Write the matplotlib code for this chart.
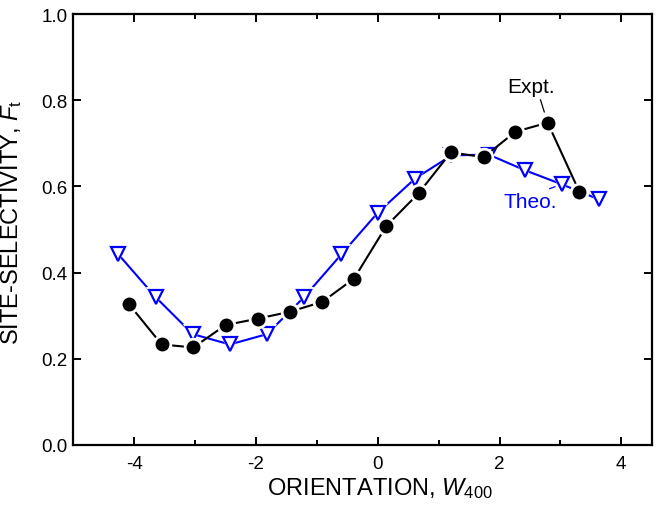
import matplotlib
matplotlib.use("Agg")
import matplotlib.pyplot as plt
from matplotlib.ticker import MultipleLocator

# ---- data ----
expt_x = [-4.09, -3.55, -3.03, -2.50, -1.97, -1.44, -0.91, -0.39,
          0.14, 0.67, 1.20, 1.74, 2.26, 2.79, 3.31]
expt_y = [0.327, 0.233, 0.226, 0.278, 0.293, 0.309, 0.332, 0.386,
          0.508, 0.584, 0.679, 0.668, 0.727, 0.748, 0.588]

theo_x = [-4.26, -3.65, -3.04, -2.43, -1.82, -1.21, -0.60, 0.0,
          0.61, 1.21, 1.82, 2.41, 3.02, 3.63]
theo_y = [0.442, 0.343, 0.257, 0.233, 0.257, 0.343, 0.442, 0.539,
          0.618, 0.672, 0.674, 0.638, 0.605, 0.570]

x_ticks = [-4, -2, 0, 2, 4]
y_ticks = [0.0, 0.2, 0.4, 0.6, 0.8, 1.0]

plt.rcParams["font.family"] = ["Liberation Sans", "DejaVu Sans"]
plt.rcParams["mathtext.fontset"] = "custom"
plt.rcParams["mathtext.rm"] = "Liberation Sans"
plt.rcParams["mathtext.it"] = "Liberation Sans:italic"

fig = plt.figure(figsize=(6.61, 5.06), dpi=100)
ax = fig.add_axes([0.111, 0.119, 0.875, 0.851])

# theory curve: blue line, open down triangles with a white halo
ax.plot(theo_x, theo_y, color="blue", lw=1.5, zorder=2)
ax.plot(theo_x, theo_y, ls="none", marker="v", ms=14, mfc="white",
        mec="white", mew=0, zorder=2.1)
ax.plot(theo_x, theo_y, ls="none", marker="v", ms=9.5, mfc="white",
        mec="blue", mew=1.6, zorder=2.2)

# experiment: black line, filled circles with a white halo
ax.plot(expt_x, expt_y, color="black", lw=1.5, zorder=3)
ax.plot(expt_x, expt_y, ls="none", marker="o", ms=14, mfc="white",
        mec="white", mew=0, zorder=3.1)
ax.plot(expt_x, expt_y, ls="none", marker="o", ms=10, mfc="black",
        mec="black", mew=0, zorder=3.2)

# labels with leader lines
ax.annotate("Expt.", xy=(expt_x[13], expt_y[13]), xytext=(2.51, 0.833),
            ha="center", va="center", fontsize=15, color="black",
            arrowprops=dict(arrowstyle="-", color="black", lw=0.9,
                            relpos=(0.68, 0.0), shrinkA=1, shrinkB=8))
ax.annotate("Theo.", xy=(theo_x[12], theo_y[12]), xytext=(2.50, 0.565),
            ha="center", va="center", fontsize=15, color="blue",
            arrowprops=dict(arrowstyle="-", color="blue", lw=0.9,
                            relpos=(0.70, 1.0), shrinkA=1, shrinkB=5),
            zorder=4)

ax.set_xlim(-5, 4.5)
ax.set_ylim(0, 1.0)
ax.set_xticks(x_ticks)
ax.set_yticks(y_ticks)
ax.set_xticklabels([str(t) for t in x_ticks])
ax.set_yticklabels([f"{t:.1f}" for t in y_ticks])
ax.xaxis.set_minor_locator(MultipleLocator(1))

ax.tick_params(which="both", direction="in", top=True, right=True,
               labelsize=13.5, width=1.4)
ax.tick_params(which="major", length=6)
ax.tick_params(axis="x", which="major", pad=7)
ax.tick_params(axis="y", which="major", pad=4)
ax.tick_params(which="minor", length=3.5)
for s in ax.spines.values():
    s.set_linewidth(1.6)

ax.set_xlabel(r"ORIENTATION, $W_{400}$", fontsize=17)
ax.set_ylabel(r"SITE-SELECTIVITY, $F_{\rm t}$", fontsize=17)
ax.xaxis.set_label_coords(0.53, -0.07)
ax.yaxis.set_label_coords(-0.085, 0.52)

fig.savefig("out.png", dpi=100)
